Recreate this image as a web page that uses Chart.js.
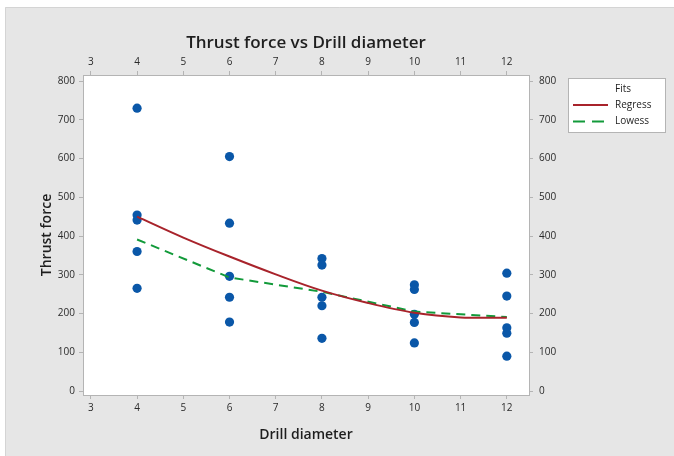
<!DOCTYPE html>
<html>
<head>
<meta charset="utf-8">
<script src="https://cdn.jsdelivr.net/npm/chart.js@4"></script>
<style>
  html, body { margin: 0; padding: 0; background: #ffffff; }
  #wrap { width: 674px; height: 456px; }
</style>
</head>
<body>
<div id="wrap"><canvas id="thrustChart" width="674" height="456"></canvas></div>
<script>
// Observed data: drill diameter vs thrust force
const drillDiameter = [4, 4, 4, 4, 4, 6, 6, 6, 6, 6, 8, 8, 8, 8, 8, 10, 10, 10, 10, 10, 12, 12, 12, 12, 12];
const thrustForce = [730, 454, 441, 360, 265, 605, 433, 296, 242, 178, 342, 325, 242, 220, 136, 274, 262, 198, 177, 124, 304, 245, 163, 149, 90];

// Fitted lines
const regressX = [4, 5, 6, 7, 8, 9, 10, 11, 12];
const regressY = [450, 396, 347, 301, 259, 227, 202, 190, 189];
const lowessX = [4, 6, 8, 10, 12];
const lowessY = [391, 293, 256, 205, 191];

// Tick labels
const xTicks = [3, 4, 5, 6, 7, 8, 9, 10, 11, 12];
const yTicks = [0, 100, 200, 300, 400, 500, 600, 700, 800];

const toPoints = (xs, ys) => xs.map((x, i) => ({ x: x, y: ys[i] }));

const FONT = "'Open Sans', 'Noto Sans', sans-serif";
const AXIS_GRAY = '#b4b4b4';
const TEXT_DARK = '#1e1e1e';
const RED = '#a8232b';
const GREEN = '#129a3a';
const BLUE = '#0a57a8';

// Gray panel + white plot area
const backgroundPlugin = {
    id: 'minitabBackground',
    beforeDraw(chart) {
        const { ctx, chartArea } = chart;
        ctx.save();
        ctx.fillStyle = '#e6e6e6';
        ctx.fillRect(5, 7, 669, 449);
        ctx.strokeStyle = '#d4d4d4';
        ctx.lineWidth = 1;
        ctx.beginPath();
        ctx.moveTo(5.5, 456);
        ctx.lineTo(5.5, 7.5);
        ctx.lineTo(674, 7.5);
        ctx.stroke();
        ctx.fillStyle = '#ffffff';
        ctx.fillRect(chartArea.left, chartArea.top, chartArea.right - chartArea.left, chartArea.bottom - chartArea.top);
        ctx.restore();
    }
};

// Legend box "Fits"
const legendPlugin = {
    id: 'fitsLegend',
    afterDraw(chart) {
        const ctx = chart.ctx;
        ctx.save();
        ctx.fillStyle = '#ffffff';
        ctx.fillRect(568.5, 78.5, 97, 54);
        ctx.strokeStyle = AXIS_GRAY;
        ctx.lineWidth = 1;
        ctx.strokeRect(568.5, 78.5, 97, 54);

        ctx.font = '500 10px ' + FONT;
        ctx.fillStyle = TEXT_DARK;
        ctx.textAlign = 'left';
        ctx.textBaseline = 'middle';
        ctx.fillText('Fits', 615, 89);
        ctx.fillText('Regress', 615, 105);
        ctx.fillText('Lowess', 615, 121);

        ctx.lineWidth = 2;
        ctx.strokeStyle = RED;
        ctx.beginPath();
        ctx.moveTo(573, 105);
        ctx.lineTo(608, 105);
        ctx.stroke();

        ctx.strokeStyle = GREEN;
        ctx.setLineDash([12, 7]);
        ctx.beginPath();
        ctx.moveTo(573, 121.5);
        ctx.lineTo(609, 121.5);
        ctx.stroke();
        ctx.restore();
    }
};

const tickFont = { family: FONT, size: 10 };

function xAxis(position, extra) {
    return Object.assign({
        type: 'linear',
        position: position,
        min: 2.83,
        max: 12.48,
        afterBuildTicks: s => { s.ticks = xTicks.map(v => ({ value: v })); },
        grid: { drawOnChartArea: false, drawTicks: true, tickLength: 4, color: AXIS_GRAY },
        border: { color: AXIS_GRAY },
        ticks: { font: tickFont, color: '#2a2a2a', padding: 3, maxRotation: 0, autoSkip: false }
    }, extra);
}

function yAxis(position, extra) {
    return Object.assign({
        type: 'linear',
        position: position,
        min: -10.3,
        max: 815.5,
        afterBuildTicks: s => { s.ticks = yTicks.map(v => ({ value: v })); },
        grid: { drawOnChartArea: false, drawTicks: true, tickLength: 4, color: AXIS_GRAY },
        border: { color: AXIS_GRAY },
        ticks: { font: tickFont, color: '#2a2a2a', padding: 4, autoSkip: false }
    }, extra);
}

new Chart(document.getElementById('thrustChart'), {
    type: 'scatter',
    data: {
        datasets: [
            {
                label: 'Regress',
                data: toPoints(regressX, regressY),
                showLine: true,
                borderColor: RED,
                borderWidth: 2,
                pointRadius: 0,
                tension: 0.35,
                order: 1
            },
            {
                label: 'Lowess',
                data: toPoints(lowessX, lowessY),
                showLine: true,
                borderColor: GREEN,
                borderWidth: 2,
                borderDash: [9, 6],
                pointRadius: 0,
                tension: 0,
                order: 2
            },
            {
                label: 'Thrust force',
                data: toPoints(drillDiameter, thrustForce),
                pointRadius: 4.6,
                pointBackgroundColor: BLUE,
                pointBorderWidth: 0,
                order: 3
            }
        ]
    },
    options: {
        responsive: false,
        animation: false,
        devicePixelRatio: 1,
        layout: { padding: { left: 5, right: 110, top: 0, bottom: 0 } },
        plugins: {
            legend: { display: false },
            tooltip: { enabled: false },
            title: { display: false }
        },
        scales: {
            x: xAxis('bottom', {
                title: {
                    display: true,
                    text: 'Drill diameter',
                    color: TEXT_DARK,
                    font: { family: FONT, size: 14, weight: '600' },
                    padding: { top: 0, bottom: 13 }
                },
                afterFit: s => { s.height = 61; }
            }),
            x2: xAxis('top', {
                title: {
                    display: true,
                    text: 'Thrust force vs Drill diameter',
                    color: TEXT_DARK,
                    font: { family: FONT, size: 17, weight: '600' },
                    padding: { top: 33, bottom: 0 }
                },
                afterFit: s => { s.height = 75; }
            }),
            y: yAxis('left', {
                title: {
                    display: true,
                    text: 'Thrust force',
                    color: TEXT_DARK,
                    font: { family: FONT, size: 14, weight: '600' },
                    padding: { top: 34, bottom: 0 }
                },
                afterFit: s => { s.width = 78; }
            }),
            y2: yAxis('right', {
                ticks: { font: tickFont, color: '#2a2a2a', padding: 6, autoSkip: false },
                afterFit: s => { s.width = 35; }
            })
        }
    },
    plugins: [backgroundPlugin, legendPlugin]
});
</script>
</body>
</html>
